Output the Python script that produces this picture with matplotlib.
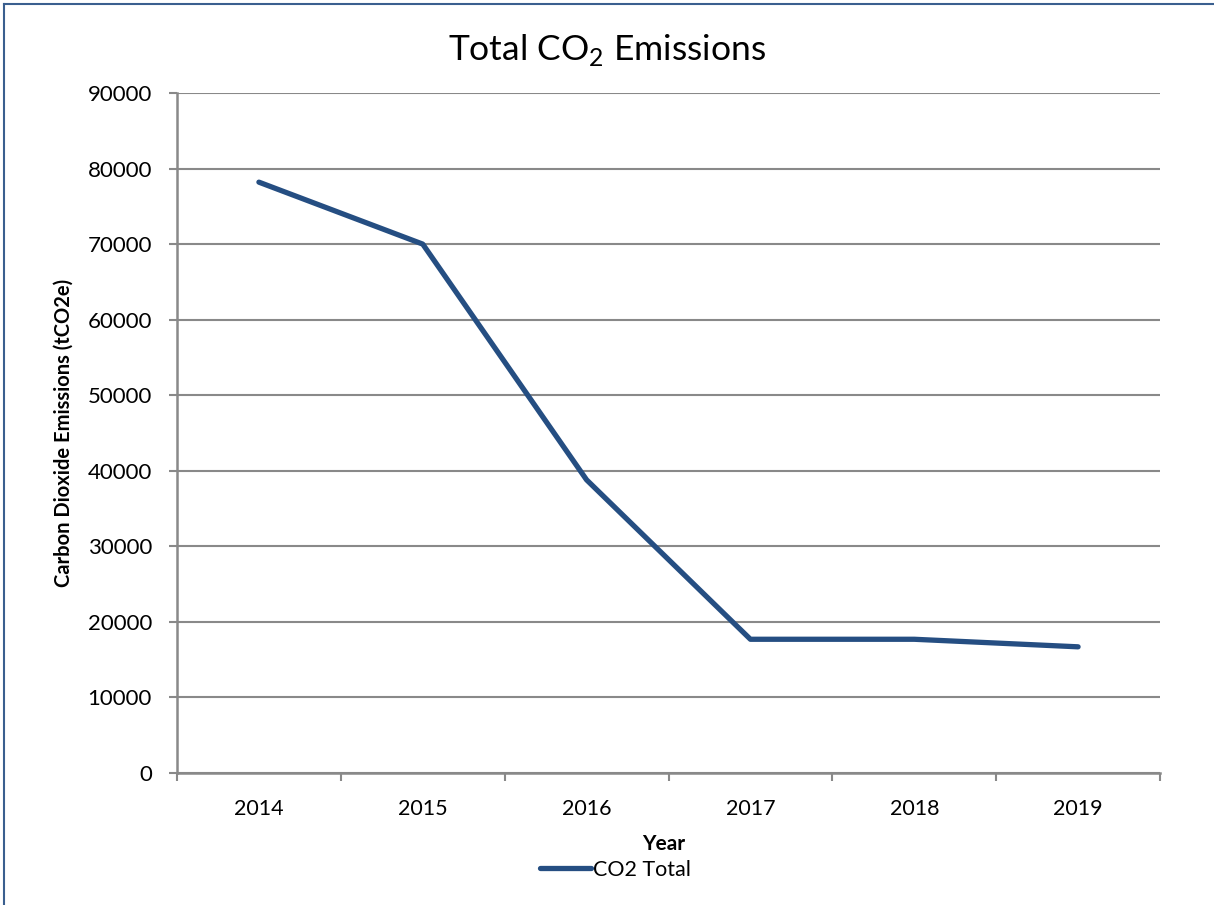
import matplotlib.pyplot as plt
from matplotlib.lines import Line2D

plt.rcParams['font.family'] = ['Lato', 'DejaVu Sans']

years = ['2014', '2015', '2016', '2017', '2018', '2019']
co2_total = [78200, 70000, 38800, 17700, 17700, 16700]
y_ticks = list(range(0, 90001, 10000))

line_color = '#254E82'
grid_color = '#898989'

fig = plt.figure(figsize=(12.14, 9.05), dpi=100)
ax = fig.add_axes([177 / 1214, 1 - 773 / 905, (1160 - 177) / 1214, (773 - 93) / 905])

x = list(range(len(years)))
ax.plot(x, co2_total, color=line_color, lw=3.8, solid_capstyle='round',
        solid_joinstyle='round', label='CO2 Total', zorder=3)

ax.set_xlim(-0.5, len(years) - 0.5)
ax.set_ylim(0, 90000)
ax.set_yticks(y_ticks)
ax.set_yticklabels([str(v) for v in y_ticks])
ax.set_xticks(x)
ax.set_xticklabels(years)
ax.set_xticks([i - 0.5 for i in range(len(years) + 1)], minor=True)

ax.tick_params(axis='y', length=6, width=1.5, color=grid_color, pad=12, labelsize=16)
ax.tick_params(axis='x', which='major', length=0, pad=19, labelsize=15.5)
ax.tick_params(axis='x', which='minor', length=6, width=1.5, color=grid_color)

ax.yaxis.grid(True, color=grid_color, lw=1.5)
ax.set_axisbelow(True)
for side in ['top', 'right']:
    ax.spines[side].set_visible(False)
for side in ['left', 'bottom']:
    ax.spines[side].set_color(grid_color)
    ax.spines[side].set_linewidth(1.8)

ax.set_ylabel('Carbon Dioxide Emissions (tCO2e)', fontsize=14.5, fontweight='bold', labelpad=10)

fig.text(0.5, 1 - 50 / 905, r'Total CO$_\mathregular{2}$ Emissions', ha='center', va='center', fontsize=25.5)
fig.text(0.5465, 1 - 844 / 905, 'Year', ha='center', va='center', fontsize=15, fontweight='bold')

fig.legend(loc='center', bbox_to_anchor=(0.507, 1 - 870 / 905), frameon=False, fontsize=15.5,
           handlelength=2.4, handletextpad=0.1)

# thin frame on the top and left edges
fig.add_artist(Line2D([4 / 1214, 1], [1 - 4 / 905, 1 - 4 / 905], color='#3A5F8F', lw=1.5))
fig.add_artist(Line2D([4 / 1214, 4 / 1214], [0, 1 - 4 / 905], color='#3A5F8F', lw=1.5))

fig.savefig('out.png', dpi=100)
